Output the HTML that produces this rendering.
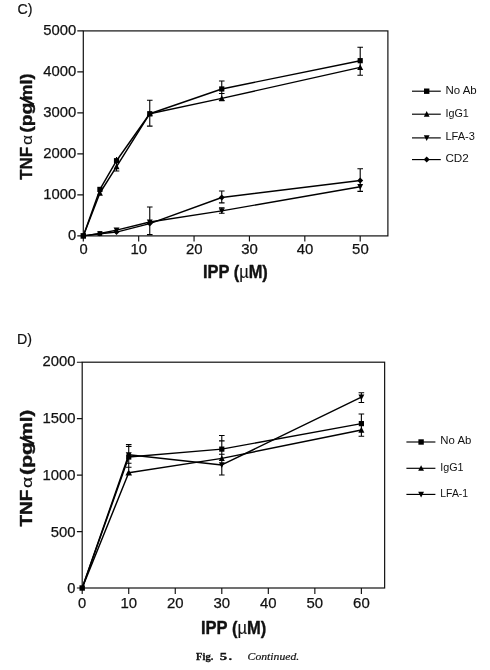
<!DOCTYPE html>
<html><head><meta charset="utf-8"><title>Fig. 5 Continued</title>
<style>html,body{margin:0;padding:0;background:#fff}svg{display:block;filter:grayscale(1)}</style></head>
<body>
<svg width="490" height="670" viewBox="0 0 490 670">
<rect width="490" height="670" fill="#fff"/>
<rect x="83.30" y="30.90" width="304.59" height="205.00" fill="none" stroke="#111" stroke-width="1.2"/>
<path d="M83.30,235.90v5.7M138.68,235.90v5.7M194.06,235.90v5.7M249.44,235.90v5.7M304.82,235.90v5.7M360.20,235.90v5.7M83.30,235.90h-6.0M83.30,194.90h-6.0M83.30,153.90h-6.0M83.30,112.90h-6.0M83.30,71.90h-6.0M83.30,30.90h-6.0" stroke="#111" stroke-width="1.15" fill="none"/>
<text x="83.50" y="253.80" text-anchor="middle" font-size="14.9" textLength="8.2" lengthAdjust="spacingAndGlyphs" font-family="Liberation Sans, sans-serif" fill="#111" stroke="#111" stroke-width="0.25">0</text>
<text x="138.88" y="253.80" text-anchor="middle" font-size="14.9" textLength="16.6" lengthAdjust="spacingAndGlyphs" font-family="Liberation Sans, sans-serif" fill="#111" stroke="#111" stroke-width="0.25">10</text>
<text x="194.26" y="253.80" text-anchor="middle" font-size="14.9" textLength="16.6" lengthAdjust="spacingAndGlyphs" font-family="Liberation Sans, sans-serif" fill="#111" stroke="#111" stroke-width="0.25">20</text>
<text x="249.64" y="253.80" text-anchor="middle" font-size="14.9" textLength="16.6" lengthAdjust="spacingAndGlyphs" font-family="Liberation Sans, sans-serif" fill="#111" stroke="#111" stroke-width="0.25">30</text>
<text x="305.02" y="253.80" text-anchor="middle" font-size="14.9" textLength="16.6" lengthAdjust="spacingAndGlyphs" font-family="Liberation Sans, sans-serif" fill="#111" stroke="#111" stroke-width="0.25">40</text>
<text x="360.40" y="253.80" text-anchor="middle" font-size="14.9" textLength="16.6" lengthAdjust="spacingAndGlyphs" font-family="Liberation Sans, sans-serif" fill="#111" stroke="#111" stroke-width="0.25">50</text>
<text x="76.20" y="240.40" text-anchor="end" font-size="14.9" textLength="8.2" lengthAdjust="spacingAndGlyphs" font-family="Liberation Sans, sans-serif" fill="#111" stroke="#111" stroke-width="0.25">0</text>
<text x="76.20" y="199.40" text-anchor="end" font-size="14.9" textLength="33.0" lengthAdjust="spacingAndGlyphs" font-family="Liberation Sans, sans-serif" fill="#111" stroke="#111" stroke-width="0.25">1000</text>
<text x="76.20" y="158.40" text-anchor="end" font-size="14.9" textLength="33.0" lengthAdjust="spacingAndGlyphs" font-family="Liberation Sans, sans-serif" fill="#111" stroke="#111" stroke-width="0.25">2000</text>
<text x="76.20" y="117.40" text-anchor="end" font-size="14.9" textLength="33.0" lengthAdjust="spacingAndGlyphs" font-family="Liberation Sans, sans-serif" fill="#111" stroke="#111" stroke-width="0.25">3000</text>
<text x="76.20" y="76.40" text-anchor="end" font-size="14.9" textLength="33.0" lengthAdjust="spacingAndGlyphs" font-family="Liberation Sans, sans-serif" fill="#111" stroke="#111" stroke-width="0.25">4000</text>
<text x="76.20" y="35.40" text-anchor="end" font-size="14.9" textLength="33.0" lengthAdjust="spacingAndGlyphs" font-family="Liberation Sans, sans-serif" fill="#111" stroke="#111" stroke-width="0.25">5000</text>
<path d="M83.30,235.90 L99.91,189.41 L116.53,160.71 L149.76,113.72 L221.75,88.96 L360.20,60.67" stroke="#000" stroke-width="1.45" fill="none" stroke-linejoin="round"/>
<path d="M83.30,235.90 L99.91,193.01 L116.53,166.61 L149.76,113.72 L221.75,98.34 L360.20,67.39" stroke="#000" stroke-width="1.45" fill="none" stroke-linejoin="round"/>
<path d="M83.30,235.90 L99.91,233.44 L116.53,230.12 L149.76,221.96 L221.75,210.85 L360.20,186.70" stroke="#000" stroke-width="1.45" fill="none" stroke-linejoin="round"/>
<path d="M83.30,235.90 L99.91,233.77 L116.53,232.09 L149.76,223.60 L221.75,197.52 L360.20,180.55" stroke="#000" stroke-width="1.45" fill="none" stroke-linejoin="round"/>
<path d="M116.53,157.00V171.00M113.73,171.00H119.33" stroke="#000" stroke-width="1.1" fill="none"/>
<path d="M149.76,100.20V126.10M146.96,100.20H152.56M146.96,126.10H152.56" stroke="#000" stroke-width="1.1" fill="none"/>
<path d="M149.76,207.00V235.00M146.96,207.00H152.56M146.96,234.60H152.56" stroke="#000" stroke-width="1.1" fill="none"/>
<path d="M221.75,81.00V100.80M218.95,81.00H224.55M218.95,93.50H224.55M218.95,100.80H224.55" stroke="#000" stroke-width="1.1" fill="none"/>
<path d="M221.75,191.00V202.90M218.95,191.00H224.55M218.95,202.90H224.55" stroke="#000" stroke-width="1.1" fill="none"/>
<path d="M221.75,207.80V213.20M218.95,207.80H224.55M218.95,213.20H224.55" stroke="#000" stroke-width="1.1" fill="none"/>
<path d="M360.20,47.30V75.30M357.40,47.30H363.00M357.40,75.30H363.00" stroke="#000" stroke-width="1.1" fill="none"/>
<path d="M360.20,168.80V191.40M357.40,168.80H363.00M357.40,191.40H363.00" stroke="#000" stroke-width="1.1" fill="none"/>
<rect x="80.60" y="233.20" width="5.4" height="5.4" fill="#000"/>
<rect x="97.31" y="186.81" width="5.2" height="5.2" fill="#000"/>
<rect x="113.93" y="158.11" width="5.2" height="5.2" fill="#000"/>
<rect x="147.16" y="111.12" width="5.2" height="5.2" fill="#000"/>
<rect x="219.15" y="86.36" width="5.2" height="5.2" fill="#000"/>
<rect x="357.60" y="58.07" width="5.2" height="5.2" fill="#000"/>
<path d="M83.30,233.02 L86.00,238.26 L80.60,238.26Z" fill="#000"/>
<path d="M99.91,189.81 L102.91,195.63 L96.91,195.63Z" fill="#000"/>
<path d="M116.53,163.41 L119.53,169.23 L113.53,169.23Z" fill="#000"/>
<path d="M149.76,110.52 L152.76,116.34 L146.76,116.34Z" fill="#000"/>
<path d="M221.75,95.14 L224.75,100.96 L218.75,100.96Z" fill="#000"/>
<path d="M360.20,64.19 L363.20,70.01 L357.20,70.01Z" fill="#000"/>
<path d="M83.30,238.78 L86.00,233.54 L80.60,233.54Z" fill="#000"/>
<path d="M99.91,236.21 L102.51,231.17 L97.31,231.17Z" fill="#000"/>
<path d="M116.53,233.27 L119.48,227.54 L113.58,227.54Z" fill="#000"/>
<path d="M149.76,225.11 L152.71,219.38 L146.81,219.38Z" fill="#000"/>
<path d="M221.75,214.00 L224.70,208.27 L218.80,208.27Z" fill="#000"/>
<path d="M360.20,189.85 L363.15,184.12 L357.25,184.12Z" fill="#000"/>
<path d="M83.30,233.20 L86.00,235.90 L83.30,238.60 L80.60,235.90Z" fill="#000"/>
<path d="M99.91,231.17 L102.51,233.77 L99.91,236.37 L97.31,233.77Z" fill="#000"/>
<path d="M116.53,229.09 L119.53,232.09 L116.53,235.09 L113.53,232.09Z" fill="#000"/>
<path d="M149.76,220.60 L152.76,223.60 L149.76,226.60 L146.76,223.60Z" fill="#000"/>
<path d="M221.75,194.52 L224.75,197.52 L221.75,200.52 L218.75,197.52Z" fill="#000"/>
<path d="M360.20,177.55 L363.20,180.55 L360.20,183.55 L357.20,180.55Z" fill="#000"/>
<rect x="97.61" y="231.30" width="4.6" height="4.6" fill="#000"/>
<rect x="82.20" y="362.20" width="302.44" height="225.80" fill="none" stroke="#111" stroke-width="1.2"/>
<path d="M82.20,588.00v6.0M128.73,588.00v6.0M175.26,588.00v6.0M221.79,588.00v6.0M268.32,588.00v6.0M314.85,588.00v6.0M361.38,588.00v6.0M82.20,588.00h-5.3M82.20,531.55h-5.3M82.20,475.10h-5.3M82.20,418.65h-5.3M82.20,362.20h-5.3" stroke="#111" stroke-width="1.15" fill="none"/>
<text x="82.20" y="608.30" text-anchor="middle" font-size="15.3" textLength="8.2" lengthAdjust="spacingAndGlyphs" font-family="Liberation Sans, sans-serif" fill="#111" stroke="#111" stroke-width="0.25">0</text>
<text x="128.73" y="608.30" text-anchor="middle" font-size="15.3" textLength="16.6" lengthAdjust="spacingAndGlyphs" font-family="Liberation Sans, sans-serif" fill="#111" stroke="#111" stroke-width="0.25">10</text>
<text x="175.26" y="608.30" text-anchor="middle" font-size="15.3" textLength="16.6" lengthAdjust="spacingAndGlyphs" font-family="Liberation Sans, sans-serif" fill="#111" stroke="#111" stroke-width="0.25">20</text>
<text x="221.79" y="608.30" text-anchor="middle" font-size="15.3" textLength="16.6" lengthAdjust="spacingAndGlyphs" font-family="Liberation Sans, sans-serif" fill="#111" stroke="#111" stroke-width="0.25">30</text>
<text x="268.32" y="608.30" text-anchor="middle" font-size="15.3" textLength="16.6" lengthAdjust="spacingAndGlyphs" font-family="Liberation Sans, sans-serif" fill="#111" stroke="#111" stroke-width="0.25">40</text>
<text x="314.85" y="608.30" text-anchor="middle" font-size="15.3" textLength="16.6" lengthAdjust="spacingAndGlyphs" font-family="Liberation Sans, sans-serif" fill="#111" stroke="#111" stroke-width="0.25">50</text>
<text x="361.38" y="608.30" text-anchor="middle" font-size="15.3" textLength="16.6" lengthAdjust="spacingAndGlyphs" font-family="Liberation Sans, sans-serif" fill="#111" stroke="#111" stroke-width="0.25">60</text>
<text x="75.50" y="593.20" text-anchor="end" font-size="15.3" textLength="8.2" lengthAdjust="spacingAndGlyphs" font-family="Liberation Sans, sans-serif" fill="#111" stroke="#111" stroke-width="0.25">0</text>
<text x="75.50" y="536.50" text-anchor="end" font-size="15.3" textLength="24.8" lengthAdjust="spacingAndGlyphs" font-family="Liberation Sans, sans-serif" fill="#111" stroke="#111" stroke-width="0.25">500</text>
<text x="75.50" y="479.80" text-anchor="end" font-size="15.3" textLength="33.0" lengthAdjust="spacingAndGlyphs" font-family="Liberation Sans, sans-serif" fill="#111" stroke="#111" stroke-width="0.25">1000</text>
<text x="75.50" y="423.10" text-anchor="end" font-size="15.3" textLength="33.0" lengthAdjust="spacingAndGlyphs" font-family="Liberation Sans, sans-serif" fill="#111" stroke="#111" stroke-width="0.25">1500</text>
<text x="75.50" y="366.40" text-anchor="end" font-size="15.3" textLength="33.0" lengthAdjust="spacingAndGlyphs" font-family="Liberation Sans, sans-serif" fill="#111" stroke="#111" stroke-width="0.25">2000</text>
<path d="M82.20,588.00 L128.73,457.04 L221.79,449.13 L361.38,423.62" stroke="#000" stroke-width="1.45" fill="none" stroke-linejoin="round"/>
<path d="M82.20,588.00 L128.73,472.73 L221.79,458.39 L361.38,430.05" stroke="#000" stroke-width="1.45" fill="none" stroke-linejoin="round"/>
<path d="M82.20,588.00 L128.73,454.78 L221.79,464.94 L361.38,397.20" stroke="#000" stroke-width="1.45" fill="none" stroke-linejoin="round"/>
<path d="M128.73,444.50V470.00M125.93,444.50H131.53M125.93,446.40H131.53M125.93,463.30H131.53M125.93,467.30H131.53" stroke="#000" stroke-width="1.1" fill="none"/>
<path d="M221.79,435.50V475.00M218.99,435.50H224.59M218.99,440.90H224.59M218.99,454.30H224.59M218.99,475.00H224.59" stroke="#000" stroke-width="1.1" fill="none"/>
<path d="M361.38,392.70V402.50M358.58,392.70H364.18M358.58,402.50H364.18" stroke="#000" stroke-width="1.1" fill="none"/>
<path d="M361.38,414.00V436.30M358.58,414.00H364.18M358.58,436.30H364.18" stroke="#000" stroke-width="1.1" fill="none"/>
<rect x="79.50" y="585.30" width="5.4" height="5.4" fill="#000"/>
<rect x="126.13" y="454.44" width="5.2" height="5.2" fill="#000"/>
<rect x="219.19" y="446.53" width="5.2" height="5.2" fill="#000"/>
<rect x="358.78" y="421.02" width="5.2" height="5.2" fill="#000"/>
<path d="M82.20,585.87 L84.20,589.75 L80.20,589.75Z" fill="#000"/>
<path d="M128.73,469.21 L132.03,475.61 L125.43,475.61Z" fill="#000"/>
<path d="M221.79,455.19 L224.79,461.01 L218.79,461.01Z" fill="#000"/>
<path d="M361.38,426.85 L364.38,432.67 L358.38,432.67Z" fill="#000"/>
<path d="M82.20,590.13 L84.20,586.25 L80.20,586.25Z" fill="#000"/>
<path d="M128.73,457.93 L131.68,452.20 L125.78,452.20Z" fill="#000"/>
<path d="M221.79,468.09 L224.74,462.36 L218.84,462.36Z" fill="#000"/>
<path d="M361.38,400.35 L364.33,394.62 L358.43,394.62Z" fill="#000"/>
<text x="235.4" y="278.3" text-anchor="middle" font-size="18.0" textLength="64.9" lengthAdjust="spacingAndGlyphs" font-family="Liberation Sans, sans-serif" font-weight="bold" fill="#111" stroke="#111" stroke-width="0.4" stroke-linejoin="round">IPP (<tspan font-weight="normal" stroke-width="0.15">µ</tspan>M)</text>
<text x="233.6" y="634.2" text-anchor="middle" font-size="19.0" textLength="65.2" lengthAdjust="spacingAndGlyphs" font-family="Liberation Sans, sans-serif" font-weight="bold" fill="#111" stroke="#111" stroke-width="0.4" stroke-linejoin="round">IPP (<tspan font-weight="normal" stroke-width="0.15">µ</tspan>M)</text>
<g transform="translate(31.5,0) rotate(-90)" font-family="Liberation Sans, sans-serif">
<text x="-179.8" y="0" font-size="17.3" textLength="32.8" lengthAdjust="spacingAndGlyphs" font-weight="bold" fill="#111" stroke="#111" stroke-width="0.4" stroke-linejoin="round">TNF</text>
<text x="-145.0" y="0" font-size="15.0" textLength="10.0" lengthAdjust="spacingAndGlyphs" fill="#111" stroke="#111" stroke-width="0.15">α</text>
<text x="-132.8" y="0" font-size="17.3" textLength="30.2" lengthAdjust="spacingAndGlyphs" font-weight="bold" fill="#111" stroke="#111" stroke-width="0.4" stroke-linejoin="round">(pg</text>
<text x="-100.6" y="0" font-size="17.3" textLength="27.0" lengthAdjust="spacingAndGlyphs" font-weight="bold" fill="#111" stroke="#111" stroke-width="0.4" stroke-linejoin="round">ml)</text>
</g>
<path d="M33.9,104.4L19.9,97.6" stroke="#111" stroke-width="2.2"/>
<g transform="translate(31.5,0) rotate(-90)" font-family="Liberation Sans, sans-serif">
<text x="-526.5" y="0" font-size="17.3" textLength="36.9" lengthAdjust="spacingAndGlyphs" font-weight="bold" fill="#111" stroke="#111" stroke-width="0.4" stroke-linejoin="round">TNF</text>
<text x="-488.1" y="0" font-size="15.0" textLength="11.2" lengthAdjust="spacingAndGlyphs" fill="#111" stroke="#111" stroke-width="0.15">α</text>
<text x="-475.1" y="0" font-size="17.3" textLength="33.3" lengthAdjust="spacingAndGlyphs" font-weight="bold" fill="#111" stroke="#111" stroke-width="0.4" stroke-linejoin="round">(pg</text>
<text x="-440.2" y="0" font-size="17.3" textLength="30.4" lengthAdjust="spacingAndGlyphs" font-weight="bold" fill="#111" stroke="#111" stroke-width="0.4" stroke-linejoin="round">ml)</text>
</g>
<path d="M34.1,443.8L19.9,437.2" stroke="#111" stroke-width="2.3"/>
<text x="17.4" y="13.9" font-size="14.2" font-family="Liberation Sans, sans-serif" fill="#111" stroke="#111" stroke-width="0.2">C)</text>
<text x="17.0" y="343.9" font-size="14.2" font-family="Liberation Sans, sans-serif" fill="#111" stroke="#111" stroke-width="0.2">D)</text>
<path d="M412,91.2H440.8" stroke="#000" stroke-width="1.15"/>
<rect x="424.00" y="88.50" width="5.4" height="5.4" fill="#000"/>
<text x="445.4" y="93.7" font-size="11.2" textLength="31.3" lengthAdjust="spacingAndGlyphs" font-family="Liberation Sans, sans-serif" fill="#111">No Ab</text>
<path d="M412,114.2H440.8" stroke="#000" stroke-width="1.15"/>
<path d="M426.70,111.11 L429.60,116.73 L423.80,116.73Z" fill="#000"/>
<text x="445.4" y="116.7" font-size="11.2" textLength="23.4" lengthAdjust="spacingAndGlyphs" font-family="Liberation Sans, sans-serif" fill="#111">IgG1</text>
<path d="M412,137.9H440.8" stroke="#000" stroke-width="1.15"/>
<path d="M426.70,140.99 L429.60,135.37 L423.80,135.37Z" fill="#000"/>
<text x="445.4" y="140.4" font-size="11.2" textLength="29.5" lengthAdjust="spacingAndGlyphs" font-family="Liberation Sans, sans-serif" fill="#111">LFA-3</text>
<path d="M412,159.6H440.8" stroke="#000" stroke-width="1.15"/>
<path d="M426.70,156.60 L429.70,159.60 L426.70,162.60 L423.70,159.60Z" fill="#000"/>
<text x="445.4" y="162.1" font-size="11.2" textLength="23.4" lengthAdjust="spacingAndGlyphs" font-family="Liberation Sans, sans-serif" fill="#111">CD2</text>
<path d="M406.4,442H435.4" stroke="#000" stroke-width="1.15"/>
<rect x="418.40" y="439.30" width="5.4" height="5.4" fill="#000"/>
<text x="440.3" y="444.3" font-size="11.8" textLength="31.0" lengthAdjust="spacingAndGlyphs" font-family="Liberation Sans, sans-serif" fill="#111">No Ab</text>
<path d="M406.4,468.3H435.4" stroke="#000" stroke-width="1.15"/>
<path d="M421.10,465.21 L424.00,470.83 L418.20,470.83Z" fill="#000"/>
<text x="440.3" y="470.6" font-size="11.8" textLength="23.3" lengthAdjust="spacingAndGlyphs" font-family="Liberation Sans, sans-serif" fill="#111">IgG1</text>
<path d="M406.4,494.4H435.4" stroke="#000" stroke-width="1.15"/>
<path d="M421.10,497.49 L424.00,491.87 L418.20,491.87Z" fill="#000"/>
<text x="440.3" y="496.7" font-size="11.8" textLength="27.8" lengthAdjust="spacingAndGlyphs" font-family="Liberation Sans, sans-serif" fill="#111">LFA-1</text>
<text x="196.1" y="660.3" font-size="11" font-weight="bold" font-family="Liberation Serif, serif" fill="#111" stroke="#111" stroke-width="0.3" textLength="17.2" lengthAdjust="spacingAndGlyphs">Fig.</text>
<text x="219.7" y="660.3" font-size="11" font-weight="bold" font-family="Liberation Serif, serif" fill="#111" stroke="#111" stroke-width="0.3" textLength="7.4" lengthAdjust="spacingAndGlyphs">5</text>
<text x="228.6" y="660.3" font-size="11" font-weight="bold" font-family="Liberation Serif, serif" fill="#111" stroke="#111" stroke-width="0.3" textLength="3.6" lengthAdjust="spacingAndGlyphs">.</text>
<text x="247.6" y="660.3" font-size="11" font-style="italic" font-family="Liberation Serif, serif" fill="#111" stroke="#111" stroke-width="0.2" textLength="51.6" lengthAdjust="spacingAndGlyphs">Continued.</text>
</svg>
</body></html>
